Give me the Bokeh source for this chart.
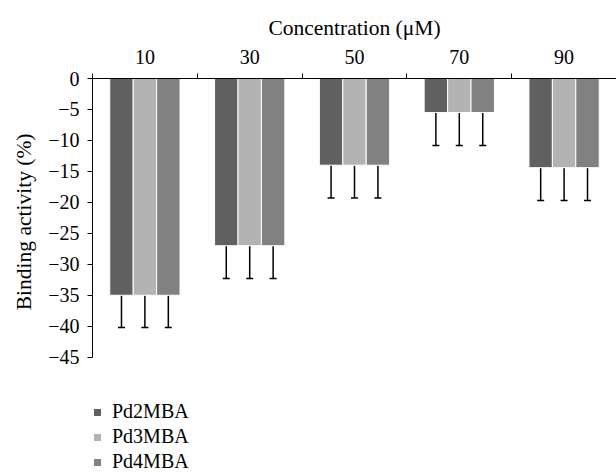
from bokeh.plotting import figure
from bokeh.models import (Range1d, FixedTicker, Whisker, TeeHead, ColumnDataSource,
                          Legend, LegendItem, Title)
from bokeh.embed import file_html
from bokeh.resources import INLINE

# ---- data ----
concentrations = ["10", "30", "50", "70", "90"]
series_names = ["Pd2MBA", "Pd3MBA", "Pd4MBA"]
pd2mba = [-35.0, -27.0, -14.0, -5.5, -14.4]
pd3mba = [-35.0, -27.0, -14.0, -5.5, -14.4]
pd4mba = [-35.0, -27.0, -14.0, -5.5, -14.4]
pd2mba_err = [5.2, 5.3, 5.3, 5.3, 5.3]
pd3mba_err = [5.2, 5.3, 5.3, 5.3, 5.3]
pd4mba_err = [5.2, 5.3, 5.3, 5.3, 5.3]
y_ticks = [0, -5, -10, -15, -20, -25, -30, -35, -40, -45]
y_tick_labels = ["0", "\u22125", "\u221210", "\u221215", "\u221220",
                 "\u221225", "\u221230", "\u221235", "\u221240", "\u221245"]
x_title = "Concentration (\u03bcM)"
y_title = "Binding activity (%)"

colors = ["#606060", "#b3b3b3", "#818181"]
FONT = "Liberation Serif"

W, H = 616, 472
FRAME_LEFT, FRAME_TOP = 92, 78
PX_PER_UNIT = 6.193
y_min = -(H - FRAME_TOP) / PX_PER_UNIT

p = figure(width=W, height=H, x_range=Range1d(0, 5), y_range=Range1d(y_min, 0),
           output_backend="svg", toolbar_location=None, x_axis_location="above",
           min_border_left=FRAME_LEFT, min_border_top=FRAME_TOP,
           min_border_right=0, min_border_bottom=0)
p.outline_line_color = None
p.grid.visible = False
p.background_fill_color = "white"

series_vals = [pd2mba, pd3mba, pd4mba]
series_errs = [pd2mba_err, pd3mba_err, pd4mba_err]
offsets = [-0.2235, 0.0, 0.2235]
bar_w = 0.2235

items = []
for name, vals, errs, off, col in zip(series_names, series_vals, series_errs, offsets, colors):
    xs = [i + 0.5 + off for i in range(len(concentrations))]
    src = ColumnDataSource(dict(x=xs, top=[0] * len(vals), bottom=vals,
                                lower=[v - e for v, e in zip(vals, errs)]))
    r = p.vbar(x="x", top="top", bottom="bottom", width=bar_w, source=src,
               fill_color=col, line_color="white", line_width=1)
    w = Whisker(source=src, base="x", upper="bottom", lower="lower", dimension="height",
                upper_head=None,
                lower_head=TeeHead(size=7, line_width=1.5, line_color="black"),
                line_width=1.5, line_color="black")
    p.add_layout(w)
    items.append(LegendItem(label=name, renderers=[r]))

# x axis (top)
xa = p.xaxis[0]
xa.ticker = FixedTicker(ticks=[i + 0.5 for i in range(len(concentrations))],
                        minor_ticks=list(range(len(concentrations) + 1)))
xa.major_label_overrides = {i + 0.5: c for i, c in enumerate(concentrations)}
xa.major_tick_out = 0
xa.major_tick_in = 0
xa.major_tick_line_color = None
xa.minor_tick_out = 5
xa.minor_tick_in = 0
xa.minor_tick_line_color = "black"
xa.axis_line_color = "black"
xa.major_label_text_font = FONT
xa.major_label_text_font_size = "20px"
xa.major_label_text_color = "black"
xa.major_label_standoff = 10
xa.axis_label = x_title
xa.axis_label_text_font = FONT
xa.axis_label_text_font_size = "21.5px"
xa.axis_label_text_font_style = "normal"
xa.axis_label_text_color = "black"
xa.axis_label_standoff = 7

# y axis (left)
ya = p.yaxis[0]
ya.ticker = FixedTicker(ticks=y_ticks)
ya.bounds = (y_ticks[-1], y_ticks[0])
ya.major_label_overrides = {t: l for t, l in zip(y_ticks, y_tick_labels)}
ya.major_tick_out = 5
ya.major_tick_in = 0
ya.minor_tick_line_color = None
ya.axis_line_color = "black"
ya.major_label_text_font = FONT
ya.major_label_text_font_size = "20px"
ya.major_label_text_color = "black"
ya.major_label_standoff = 8

# y-axis title, placed beside the bounded part of the axis
p.add_layout(Title(text=y_title, align="right", offset=55, standoff=16,
                   vertical_align="top", text_font=FONT, text_font_size="21.5px",
                   text_font_style="normal", text_color="black"), "left")

legend = Legend(items=items, location=(0, -1), orientation="vertical",
                glyph_width=10, glyph_height=10, label_height=20, spacing=2,
                label_standoff=10, padding=0, margin=0,
                border_line_color=None, background_fill_alpha=0,
                label_text_font=FONT, label_text_font_size="20px",
                label_text_color="black")
p.add_layout(legend)

open("out.html", "w").write(file_html(p, INLINE))
